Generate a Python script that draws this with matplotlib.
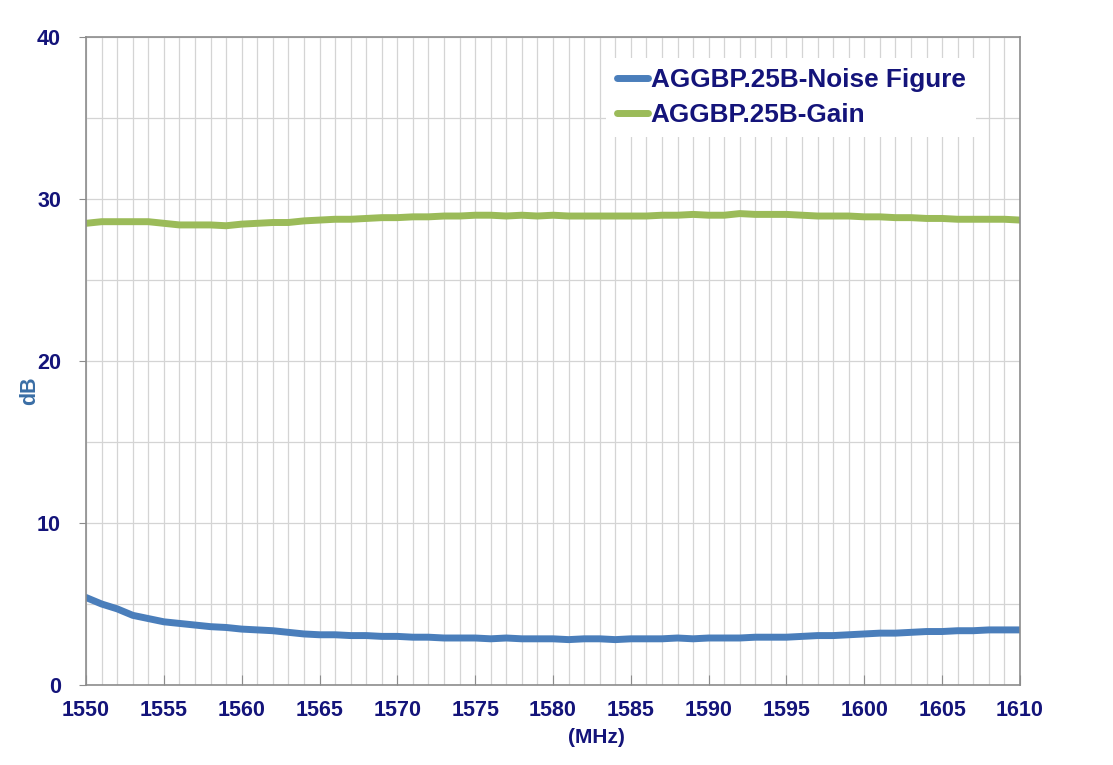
import numpy as np
import matplotlib.pyplot as plt
from matplotlib.ticker import MultipleLocator

# Frequency points (MHz)
freq = np.arange(1550, 1611, 1)

noise_figure = [5.4, 5.0, 4.7, 4.3, 4.1, 3.9, 3.8, 3.7, 3.6, 3.55,
                3.45, 3.4, 3.35, 3.25, 3.15, 3.1, 3.1, 3.05, 3.05, 3.0,
                3.0, 2.95, 2.95, 2.9, 2.9, 2.9, 2.85, 2.9, 2.85, 2.85,
                2.85, 2.8, 2.85, 2.85, 2.8, 2.85, 2.85, 2.85, 2.9, 2.85,
                2.9, 2.9, 2.9, 2.95, 2.95, 2.95, 3.0, 3.05, 3.05, 3.1,
                3.15, 3.2, 3.2, 3.25, 3.3, 3.3, 3.35, 3.35, 3.4, 3.4,
                3.4]

gain = [28.5, 28.6, 28.6, 28.6, 28.6, 28.5, 28.4, 28.4, 28.4, 28.35,
        28.45, 28.5, 28.55, 28.55, 28.65, 28.7, 28.75, 28.75, 28.8, 28.85,
        28.85, 28.9, 28.9, 28.95, 28.95, 29.0, 29.0, 28.95, 29.0, 28.95,
        29.0, 28.95, 28.95, 28.95, 28.95, 28.95, 28.95, 29.0, 29.0, 29.05,
        29.0, 29.0, 29.1, 29.05, 29.05, 29.05, 29.0, 28.95, 28.95, 28.95,
        28.9, 28.9, 28.85, 28.85, 28.8, 28.8, 28.75, 28.75, 28.75, 28.75,
        28.7]

labels = ["AGGBP.25B-Noise Figure", "AGGBP.25B-Gain"]

navy = "#14147a"
plt.rcParams['font.family'] = ['Liberation Sans', 'DejaVu Sans']

fig = plt.figure(figsize=(11.13, 7.65), dpi=100)
ax = fig.add_axes([0.0773, 0.1046, 0.8391, 0.847])

ax.plot(freq, noise_figure, color="#4a7ebb", lw=5, label=labels[0],
        solid_capstyle="round")
ax.plot(freq, gain, color="#9bbb59", lw=5, label=labels[1],
        solid_capstyle="round")

ax.set_xlim(1550, 1610)
ax.set_ylim(0, 40)
ax.xaxis.set_major_locator(MultipleLocator(5))
ax.xaxis.set_minor_locator(MultipleLocator(1))
ax.yaxis.set_major_locator(MultipleLocator(10))
ax.yaxis.set_minor_locator(MultipleLocator(5))

ax.grid(which="both", color="#d4d4d4", lw=0.9)
ax.set_axisbelow(True)
for s in ax.spines.values():
    s.set_color("#8c8c8c")
    s.set_linewidth(1.2)

ax.tick_params(axis="x", which="major", direction="in", length=7,
               color="#8c8c8c", labelsize=15.5, labelcolor=navy, pad=11)
ax.tick_params(axis="y", which="major", direction="out", length=5,
               color="#8c8c8c", labelsize=15.5, labelcolor=navy, pad=13)
ax.tick_params(which="minor", length=0)
for t in ax.get_xticklabels() + ax.get_yticklabels():
    t.set_fontweight("bold")

ax.set_xlabel("(MHz)", fontsize=15, fontweight="bold", color=navy)
ax.xaxis.set_label_coords(0.547, -0.066)
ax.set_ylabel("dB", fontsize=15.5, fontweight="bold", color="#3a6ea5")
ax.yaxis.set_label_coords(-0.049, 0.454)

leg = ax.legend(loc="upper left", bbox_to_anchor=(0.557, 0.968),
                borderaxespad=0, frameon=True, fancybox=False,
                edgecolor="none", framealpha=1, handlelength=1.2,
                handletextpad=0.1, labelspacing=0.4,
                prop={"size": 18.8, "weight": "bold"})
for t in leg.get_texts():
    t.set_color(navy)

fig.savefig("out.png", dpi=100)
